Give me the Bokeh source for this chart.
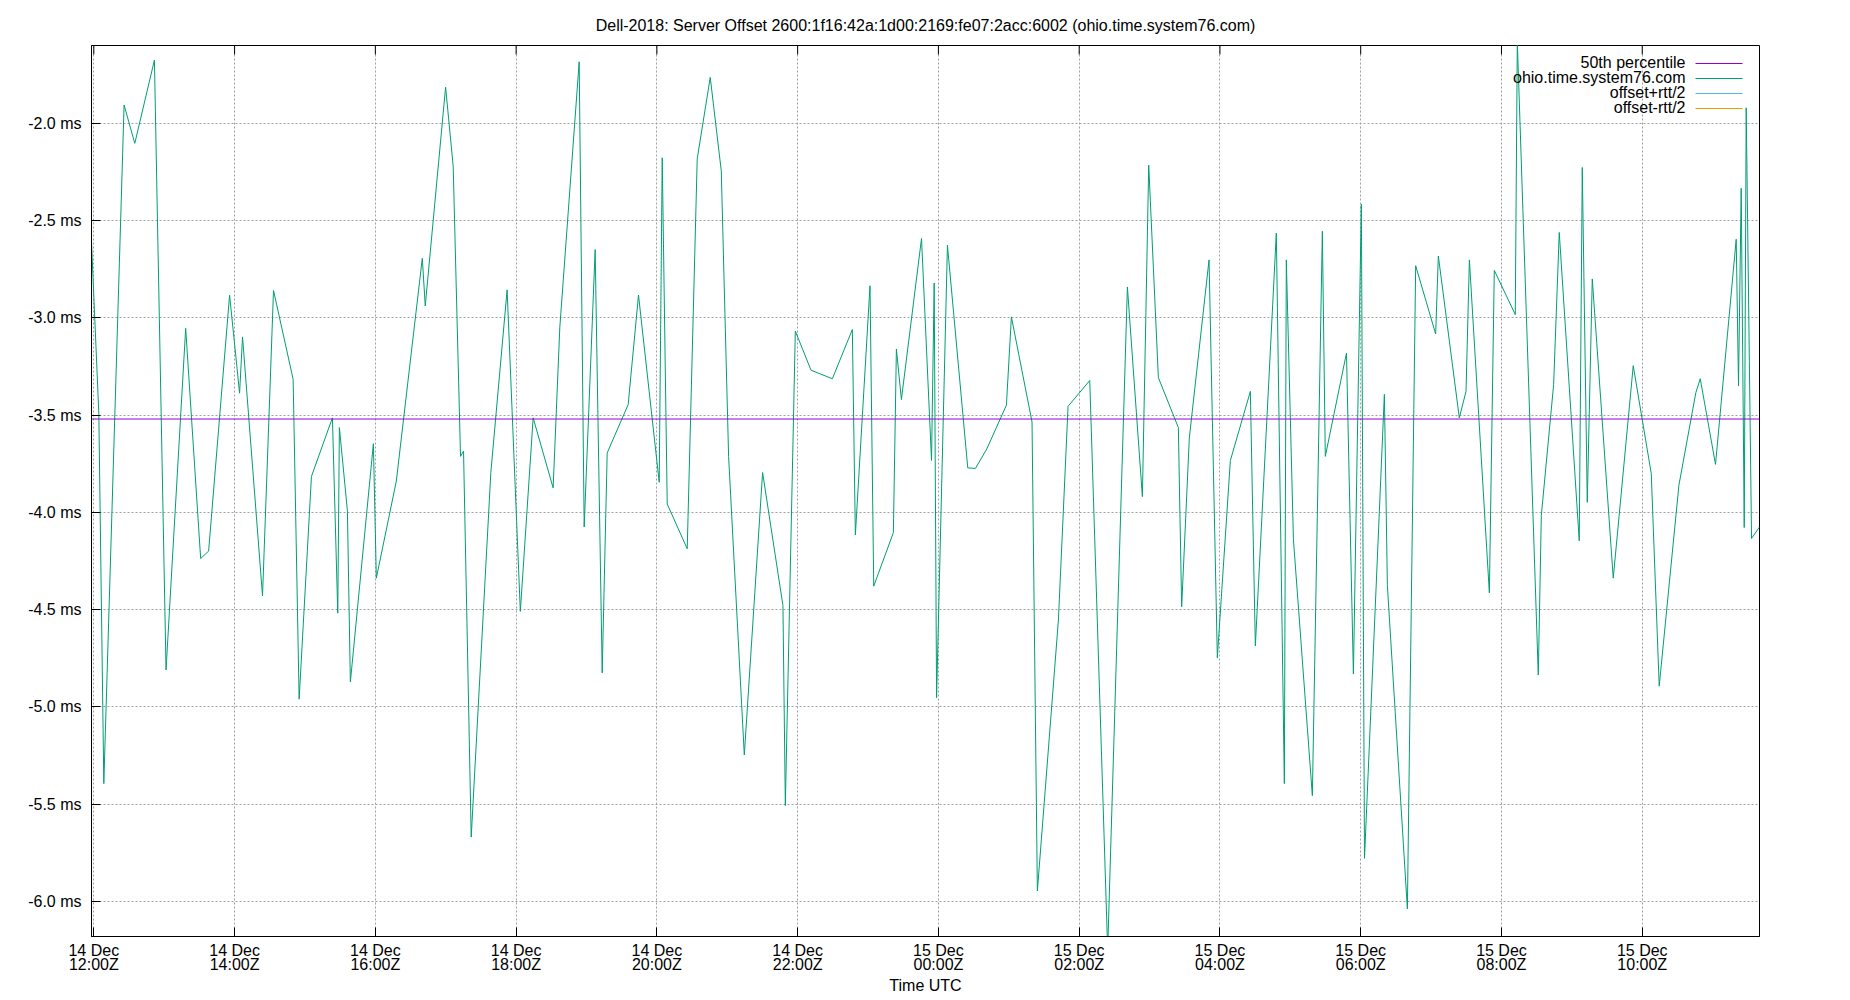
import pandas as pd
from bokeh.plotting import figure
from bokeh.models import Range1d, FixedTicker, PrintfTickFormatter, Label, Arrow, Span
from bokeh.embed import file_html
from bokeh.resources import INLINE

TITLE = "Dell-2018: Server Offset 2600:1f16:42a:1d00:2169:fe07:2acc:6002 (ohio.time.system76.com)"
START = "2018-12-14 12:00"  # hours below are counted from this UTC time

hours = [
    -0.033, 0.071, 0.142, 0.430, 0.582, 0.861, 1.026, 1.305, 1.518, 1.631,
    1.929, 2.071, 2.113, 2.397, 2.553, 2.832, 2.917, 3.092, 3.390, 3.466,
    3.489, 3.603, 3.645, 3.972, 4.014, 4.298, 4.667, 4.709, 4.998, 5.106,
    5.210, 5.253, 5.362, 5.641, 5.872, 6.060, 6.242, 6.526, 6.621, 6.896,
    6.967, 7.123, 7.223, 7.294, 7.592, 7.739, 8.033, 8.076, 8.147, 8.431,
    8.573, 8.758, 8.915, 9.019, 9.242, 9.502, 9.791, 9.825, 9.967, 10.190,
    10.493, 10.777, 10.820, 11.028, 11.081, 11.360, 11.403, 11.474, 11.760, 11.902,
    11.940, 11.974, 12.128, 12.417, 12.526, 12.687, 12.966, 13.037, 13.330, 13.406,
    13.705, 13.842, 14.150, 14.405, 14.685, 14.898, 14.988, 15.125, 15.409, 15.456,
    15.565, 15.845, 15.963, 16.148, 16.432, 16.503, 16.801, 16.915, 16.943, 17.044,
    17.313, 17.455, 17.497, 17.798, 17.896, 18.009, 18.054, 18.336, 18.379, 18.663,
    18.781, 19.065, 19.103, 19.401, 19.496, 19.544, 19.828, 19.898, 20.196, 20.225,
    20.523, 20.566, 20.741, 20.821, 21.105, 21.148, 21.219, 21.290, 21.588, 21.872,
    22.128, 22.241, 22.521, 22.762, 22.824, 23.041, 23.335, 23.368, 23.406, 23.449,
    23.477, 23.553, 23.666,
]
offset_ms = [
    -2.61, -3.49, -5.394, -1.906, -2.103, -1.675, -4.810, -3.054, -4.237, -4.199,
    -2.883, -3.387, -3.098, -4.429, -2.859, -3.316, -4.960, -3.815, -3.514, -4.518,
    -3.564, -3.992, -4.872, -3.647, -4.338, -3.839, -2.694, -2.939, -1.814, -2.221,
    -3.712, -3.685, -5.669, -3.794, -2.856, -4.509, -3.514, -3.874, -3.048, -1.684,
    -4.075, -2.649, -4.825, -3.694, -3.446, -2.883, -3.845, -2.177, -3.957, -4.187,
    -2.183, -1.764, -2.245, -3.712, -5.247, -3.795, -4.479, -5.507, -3.068, -3.269,
    -3.313, -3.060, -4.116, -2.835, -4.379, -4.104, -3.160, -3.420, -2.592, -3.733,
    -2.821, -4.952, -2.626, -3.771, -3.774, -3.674, -3.449, -2.995, -3.535, -5.946,
    -4.553, -3.455, -3.322, -6.25, -2.841, -3.919, -2.215, -3.307, -3.564, -4.485,
    -3.617, -2.702, -4.748, -3.733, -3.378, -4.686, -2.564, -5.394, -2.702, -4.140,
    -5.456, -2.555, -3.712, -3.181, -4.831, -2.416, -5.778, -3.393, -4.376, -6.038,
    -2.732, -3.083, -2.682, -3.514, -3.378, -2.702, -4.414, -2.756, -2.983, -1.58,
    -4.836, -4.016, -3.343, -2.561, -4.146, -2.227, -3.948, -2.800, -4.338, -3.246,
    -3.800, -4.893, -3.860, -3.384, -3.313, -3.753, -2.596, -3.349, -2.334, -4.078,
    -1.920, -4.134, -4.075,
]
p50_ms = -3.52
y_ticks = [-6.0, -5.5, -5.0, -4.5, -4.0, -3.5, -3.0, -2.5, -2.0]
y_min, y_max = -6.18, -1.60
x_tick_hours = [0, 2, 4, 6, 8, 10, 12, 14, 16, 18, 20, 22]
x_tick_labels = [
    "14 Dec\n12:00Z", "14 Dec\n14:00Z", "14 Dec\n16:00Z", "14 Dec\n18:00Z",
    "14 Dec\n20:00Z", "14 Dec\n22:00Z", "15 Dec\n00:00Z", "15 Dec\n02:00Z",
    "15 Dec\n04:00Z", "15 Dec\n06:00Z", "15 Dec\n08:00Z", "15 Dec\n10:00Z",
]
legend_labels = ["50th percentile", "ohio.time.system76.com", "offset+rtt/2", "offset-rtt/2"]
legend_colors = ["#9400d3", "#009e73", "#56b4e9", "#e69f00"]

FONT = "Liberation Sans"
t0 = pd.Timestamp(START)
times = [t0 + pd.Timedelta(hours=h) for h in hours]
tick_times = [t0 + pd.Timedelta(hours=h) for h in x_tick_hours]
tick_ms = [t.value / 1e6 for t in tick_times]

W, H = 1842, 996
BL, BR, BT, BB = 91, 83, 45, 60
frame_w = W - BL - BR
frame_h = H - BT - BB

p = figure(width=W, height=H, x_axis_type="datetime", output_backend="svg",
           toolbar_location=None, title=TITLE,
           x_range=Range1d(times[0], times[-1]), y_range=Range1d(y_min, y_max),
           min_border_left=BL, min_border_right=BR, min_border_top=BT, min_border_bottom=BB)
p.background_fill_color = "white"
p.border_fill_color = "white"
p.outline_line_color = "black"
p.outline_line_width = 1

p.title.align = "center"
p.title.text_font = FONT
p.title.text_font_size = "16px"
p.title.text_font_style = "normal"
p.title.text_color = "black"
p.title.standoff = 23

# grid
for g in (p.xgrid, p.ygrid):
    g.grid_line_color = "#a0a0a0"
    g.grid_line_dash = "2 2"
    g.grid_line_width = 1
p.xgrid.ticker = FixedTicker(ticks=tick_ms)
p.ygrid.ticker = FixedTicker(ticks=y_ticks)

# x axis
xa = p.xaxis[0]
xa.ticker = FixedTicker(ticks=tick_ms)
xa.major_label_overrides = {ms: lab for ms, lab in zip(tick_ms, x_tick_labels)}
xa.major_tick_in = 9
xa.major_tick_out = 0
xa.minor_tick_in = 0
xa.minor_tick_out = 0
xa.major_label_standoff = 5
xa.major_label_text_font = FONT
xa.major_label_text_font_size = "16px"
xa.major_label_text_color = "black"
xa.major_label_text_line_height = 0.85
xa.axis_label = "Time UTC"
xa.axis_label_text_font = FONT
xa.axis_label_text_font_size = "16px"
xa.axis_label_text_font_style = "normal"
xa.axis_label_text_color = "black"
xa.axis_label_standoff = 1
xa.axis_line_color = "black"
xa.major_tick_line_color = "black"

# mirrored x ticks along the top border (inward, like the bottom ones)
tick_len = 9 * (y_max - y_min) / frame_h
p.segment(x0=tick_times, y0=[y_max] * len(tick_times), x1=tick_times,
          y1=[y_max - tick_len] * len(tick_times), line_color="black", line_width=1)

# y axis
ya = p.yaxis[0]
ya.ticker = FixedTicker(ticks=y_ticks)
ya.formatter = PrintfTickFormatter(format="%.1f ms")
ya.major_tick_in = 9
ya.major_tick_out = 0
ya.minor_tick_in = 0
ya.minor_tick_out = 0
ya.major_label_standoff = 10
ya.major_label_text_font = FONT
ya.major_label_text_font_size = "16px"
ya.major_label_text_color = "black"
ya.axis_line_color = "black"
ya.major_tick_line_color = "black"

# data
p.add_layout(Span(location=p50_ms, dimension="width", line_color=legend_colors[0], line_width=1))
p.line(times, offset_ms, line_color=legend_colors[1], line_width=1)

# gnuplot-style key (text right-aligned, sample line to the right), frame-relative screen units
for i, (lab, col) in enumerate(zip(legend_labels, legend_colors)):
    y = frame_h - 18 - 15 * i
    p.add_layout(Label(x=frame_w - 74, y=y + 1.5, x_units="screen", y_units="screen", text=lab,
                       text_align="right", text_baseline="middle", text_font=FONT,
                       text_font_size="16px", text_color="black"))
    p.add_layout(Arrow(end=None, x_start=frame_w - 64, y_start=y, x_end=frame_w - 17, y_end=y,
                       start_units="screen", end_units="screen", line_color=col, line_width=1))

open("out.html", "w").write(file_html(p, INLINE))
